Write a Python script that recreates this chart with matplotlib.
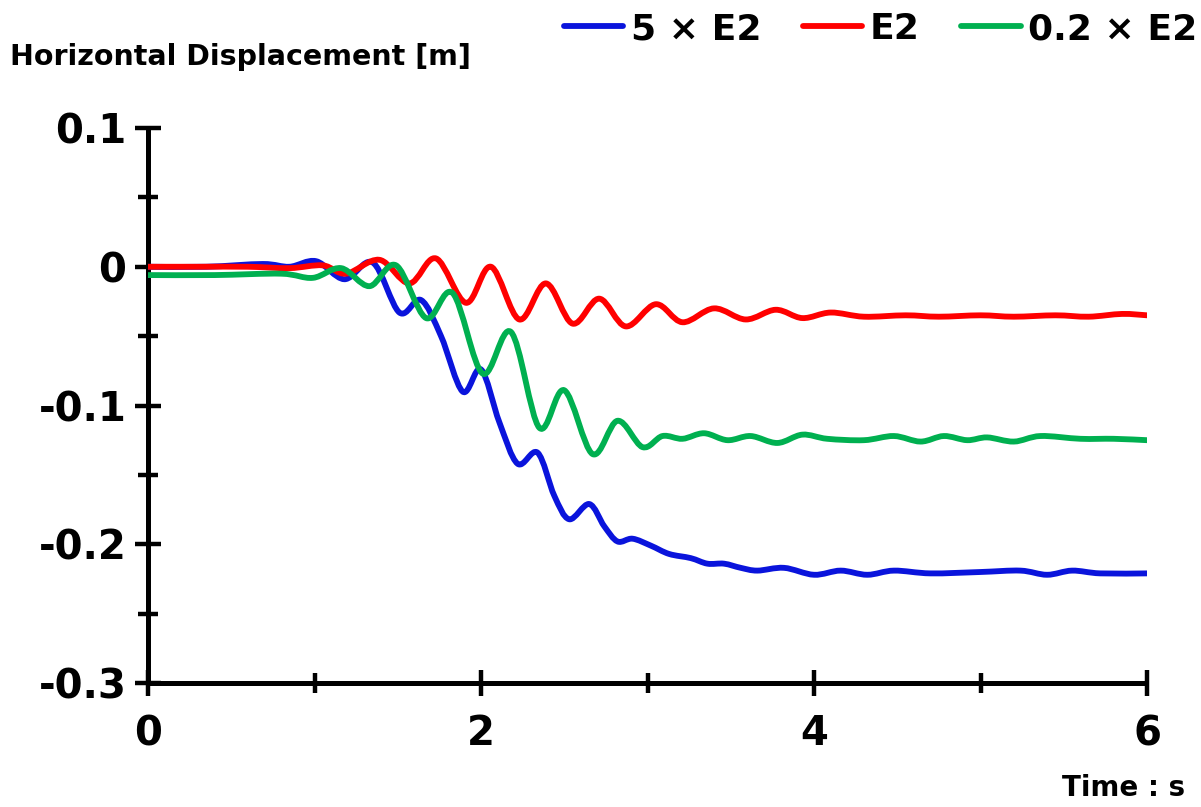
import numpy as np
import matplotlib
matplotlib.use("Agg")
import matplotlib.pyplot as plt
from matplotlib.path import Path
from matplotlib.patches import PathPatch
from matplotlib.lines import Line2D

plt.rcParams['font.family'] = ['DejaVu Sans']
plt.rcParams['font.weight'] = 'bold'

# Time [s] and horizontal displacement [m] for each input scaling
t_5x = [0.0, 0.35, 0.69, 0.85, 1.01, 1.18, 1.35, 1.51, 1.64, 1.76, 1.89, 2.00,
        2.11, 2.22, 2.34, 2.44, 2.53, 2.65, 2.74, 2.82, 2.91, 3.02, 3.13, 3.26,
        3.36, 3.46, 3.56, 3.66, 3.82, 4.00, 4.16, 4.32, 4.48, 4.70, 5.00, 5.24,
        5.40, 5.55, 5.72, 6.00]
d_5x = [0.000, 0.000, 0.002, 0.000, 0.004, -0.009, 0.003, -0.033, -0.024, -0.050,
        -0.090, -0.074, -0.112, -0.142, -0.134, -0.165, -0.182, -0.171, -0.187,
        -0.198, -0.196, -0.201, -0.207, -0.210, -0.214, -0.214, -0.217, -0.219,
        -0.217, -0.222, -0.219, -0.222, -0.219, -0.221, -0.220, -0.219, -0.222,
        -0.219, -0.221, -0.221]

t_1x = [0.0, 0.30, 0.60, 0.85, 1.05, 1.19, 1.39, 1.57, 1.73, 1.91, 2.06, 2.23,
        2.39, 2.55, 2.71, 2.87, 3.05, 3.21, 3.40, 3.59, 3.77, 3.93, 4.10, 4.30,
        4.55, 4.75, 5.00, 5.20, 5.45, 5.65, 5.85, 6.00]
d_1x = [0.000, 0.000, 0.000, -0.001, 0.001, -0.005, 0.005, -0.012, 0.006, -0.026,
        0.000, -0.038, -0.012, -0.041, -0.023, -0.043, -0.027, -0.040, -0.030,
        -0.038, -0.031, -0.037, -0.033, -0.036, -0.035, -0.036, -0.035, -0.036,
        -0.035, -0.036, -0.034, -0.035]

t_02x = [0.0, 0.40, 0.80, 0.99, 1.16, 1.33, 1.49, 1.67, 1.83, 2.01, 2.18, 2.35,
         2.50, 2.67, 2.82, 2.97, 3.09, 3.21, 3.34, 3.48, 3.62, 3.78, 3.93, 4.08,
         4.30, 4.48, 4.64, 4.78, 4.92, 5.04, 5.20, 5.36, 5.60, 5.80, 6.00]
d_02x = [-0.006, -0.006, -0.005, -0.008, -0.001, -0.014, 0.001, -0.037, -0.019,
         -0.077, -0.047, -0.116, -0.089, -0.135, -0.111, -0.130, -0.122, -0.124,
         -0.120, -0.125, -0.122, -0.127, -0.121, -0.124, -0.125, -0.122, -0.126,
         -0.122, -0.125, -0.123, -0.126, -0.122, -0.124, -0.124, -0.125]

labels = ['5 × E2', 'E2', '0.2 × E2']
colors = ['#0a14dc', '#ff0000', '#00b050']

x_major = [0, 2, 4, 6]
x_minor = [1, 3, 5]
y_major = [-0.3, -0.2, -0.1, 0.0, 0.1]
y_minor = [-0.25, -0.15, -0.05, 0.05]
y_ticklabels = ['-0.3', '-0.2', '-0.1', '0', '0.1']


def smooth_path(x, y):
    """Smoothed polyline (cubic Bezier segments through every point)."""
    p = np.column_stack([x, y]).astype(float)
    ext = np.vstack([p[0], p, p[-1]])
    verts = [p[0]]
    codes = [Path.MOVETO]
    for i in range(len(p) - 1):
        p0, p1, p2, p3 = ext[i], ext[i + 1], ext[i + 2], ext[i + 3]
        c1 = p1 + (p2 - p0) / 6.0
        c2 = p2 - (p3 - p1) / 6.0
        verts += [c1, c2, p2]
        codes += [Path.CURVE4] * 3
    return Path(verts, codes)


fig = plt.figure(figsize=(12.01, 8.07), dpi=100)
ax = fig.add_axes([148 / 1201, 1 - 683 / 807, (1147 - 148) / 1201, (683 - 128) / 807])

series = [(t_5x, d_5x), (t_1x, d_1x), (t_02x, d_02x)]
for (tx, dy), c in zip(series, colors):
    patch = PathPatch(smooth_path(tx, dy), facecolor='none', edgecolor=c,
                      lw=4.2, capstyle='round', joinstyle='round', zorder=3)
    ax.add_patch(patch)

ax.set_xlim(0, 6)
ax.set_ylim(-0.3, 0.1)
for side in ['top', 'right']:
    ax.spines[side].set_visible(False)
for side in ['left', 'bottom']:
    ax.spines[side].set_linewidth(3.6)
    ax.spines[side].set_capstyle('butt')

ax.set_xticks(x_major)
ax.set_xticks(x_minor, minor=True)
ax.set_yticks(y_major)
ax.set_yticks(y_minor, minor=True)
ax.set_yticklabels(y_ticklabels)
ax.tick_params(which='major', direction='inout', length=19, width=3.2,
               labelsize=29, pad=6)
ax.tick_params(which='minor', direction='inout', length=15, width=3.2)
ax.tick_params(axis='x', which='major', pad=13)
for lab in ax.get_xticklabels() + ax.get_yticklabels():
    lab.set_fontweight('bold')

fig.text(10 / 1201, 1 - 57 / 807, 'Horizontal Displacement [m]',
         fontsize=20.5, fontweight='bold', ha='left', va='center')
fig.text(1185 / 1201, 1 - 788 / 807, 'Time : s',
         fontsize=20, fontweight='bold', ha='right', va='center')

handles = [Line2D([], [], color=c, lw=4.2, solid_capstyle='round') for c in colors]
fig.legend(handles, labels, ncol=3, loc='upper right',
           bbox_to_anchor=(1197 / 1201, 1 - 12 / 807), frameon=False,
           prop={'size': 26, 'weight': 'bold'}, handlelength=1.65,
           handletextpad=0.2, columnspacing=1.15, borderaxespad=0.0,
           borderpad=0.0)

fig.savefig('out.png', dpi=100)
